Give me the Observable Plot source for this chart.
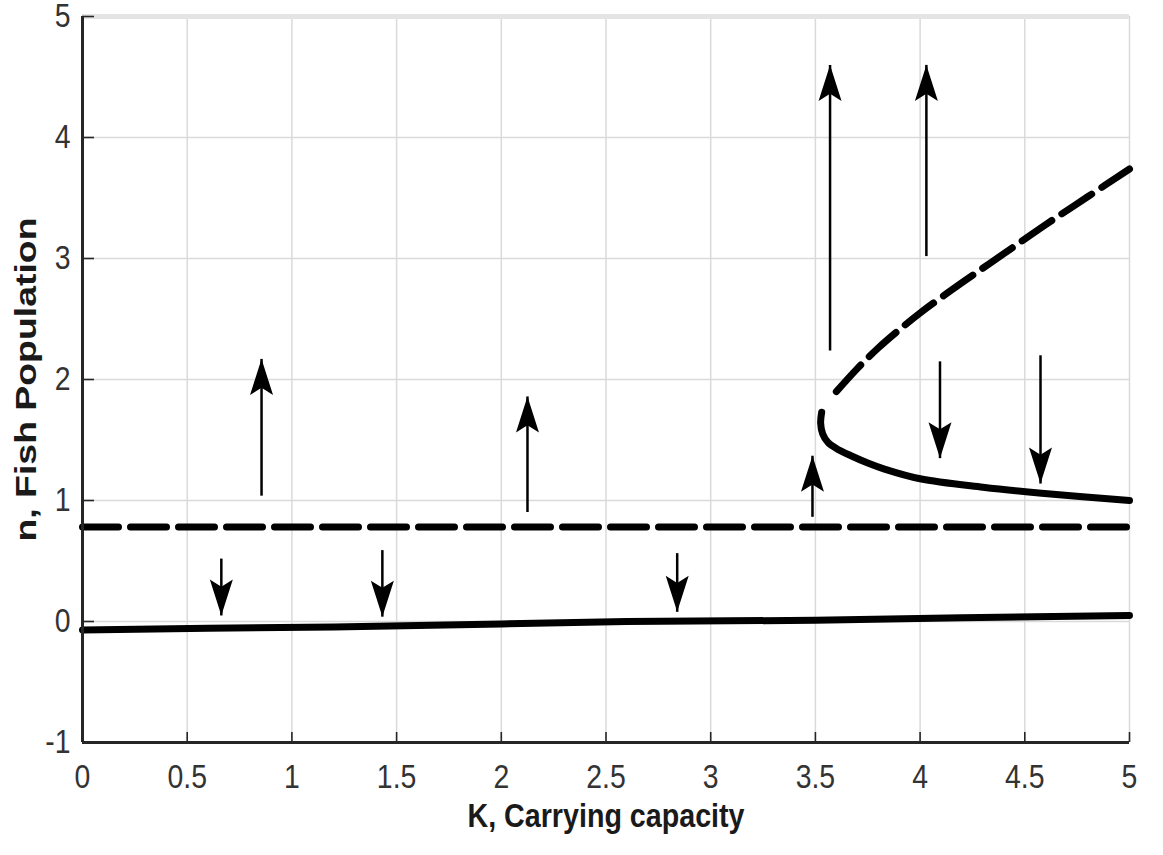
<!DOCTYPE html>
<html>
<head>
<meta charset="utf-8">
<script src="https://cdn.jsdelivr.net/npm/d3@7"></script>
<script src="https://cdn.jsdelivr.net/npm/@observablehq/plot@0.6"></script>
<style>
  html, body { margin: 0; padding: 0; background: #fff; }
  #chart svg { display: block; }
</style>
</head>
<body>
<div id="chart"></div>
<script>
// Axis ticks
const xTicks = [0, 0.5, 1, 1.5, 2, 2.5, 3, 3.5, 4, 4.5, 5];
const xTickLabels = ["0", "0.5", "1", "1.5", "2", "2.5", "3", "3.5", "4", "4.5", "5"];
const yTicks = [-1, 0, 1, 2, 3, 4, 5];
const yTickLabels = ["-1", "0", "1", "2", "3", "4", "5"];

// Lower stable equilibrium (population near zero)
const lowK = [0, 0.6, 1.2, 2, 2.6, 3.5, 4.2, 5];
const lowN = [-0.07, -0.055, -0.045, -0.02, 0.0, 0.01, 0.03, 0.05];

// Threshold equilibrium (unstable)
const thresholdK = [0, 5];
const thresholdN = [0.78, 0.78];

// Stable branch born at the fold
const upperStableK = [3.53, 3.525, 3.535, 3.56, 3.60, 3.67, 3.75, 3.83, 4.0, 4.3, 4.58, 5.0];
const upperStableN = [1.73, 1.64, 1.55, 1.48, 1.43, 1.37, 1.31, 1.26, 1.18, 1.11, 1.06, 1.0];

// Unstable branch born at the fold
const upperUnstableK = [3.6, 3.7, 3.8, 3.9, 4.0, 4.2, 4.4, 4.6, 4.8, 5.0];
const upperUnstableN = [1.90, 2.09, 2.26, 2.41, 2.55, 2.80, 3.04, 3.28, 3.51, 3.74];

// Direction-of-change arrows: growth
const riseK = [0.855, 2.125, 3.486, 3.57, 4.03];
const riseFrom = [1.04, 0.905, 0.865, 2.24, 3.02];
const riseTo = [2.17, 1.86, 1.37, 4.6, 4.6];

// Direction-of-change arrows: decline
const fallK = [0.663, 1.432, 2.84, 4.095, 4.575];
const fallFrom = [0.52, 0.59, 0.565, 2.15, 2.2];
const fallTo = [0.05, 0.04, 0.08, 1.35, 1.14];

const points = (ks, ns) => ks.map((k, i) => ({k, n: ns[i]}));
const arrows = (ks, from, to) => ks.map((k, i) => ({k, from: from[i], to: to[i]}));

const low = points(lowK, lowN);
const threshold = points(thresholdK, thresholdN);
const upperStable = points(upperStableK, upperStableN);
const upperUnstable = points(upperUnstableK, upperUnstableN);
const rise = arrows(riseK, riseFrom, riseTo);
const fall = arrows(fallK, fallFrom, fallTo);

// Layout
const W = 1163, H = 855;
const mL = 82, mR = 34, mT = 16, mB = 113;
const frameW = W - mL - mR, frameH = H - mT - mB;

// Filled arrowheads with the tip at the symbol origin
const headL = 36, headW = 23;
const headUp = {
  draw(ctx) {
    ctx.moveTo(0, 0);
    ctx.lineTo(headW / 2, headL);
    ctx.lineTo(0, headL * 0.8);
    ctx.lineTo(-headW / 2, headL);
    ctx.closePath();
  }
};
const headDown = {
  draw(ctx) {
    ctx.moveTo(0, 0);
    ctx.lineTo(headW / 2, -headL);
    ctx.lineTo(0, -headL * 0.8);
    ctx.lineTo(-headW / 2, -headL);
    ctx.closePath();
  }
};

const ink = "#000";
const dash = "36,12";

const chart = Plot.plot({
  width: W,
  height: H,
  marginLeft: mL,
  marginRight: mR,
  marginTop: mT,
  marginBottom: mB,
  style: {
    fontFamily: "'Liberation Sans', Arial, Helvetica, sans-serif",
    fontSize: "33px",
    color: "#333",
    background: "#fff"
  },
  x: {
    domain: [0, 5],
    ticks: xTicks,
    tickFormat: d => xTickLabels[xTicks.indexOf(d)],
    tickSize: 0,
    tickPadding: 22,
    label: null
  },
  y: {
    domain: [-1, 5],
    ticks: yTicks,
    tickFormat: d => yTickLabels[yTicks.indexOf(d)],
    tickSize: 0,
    tickPadding: 12,
    label: null
  },
  marks: [
    // grid
    Plot.ruleX(xTicks, {stroke: "#dadada", strokeWidth: 1.5}),
    Plot.ruleY(yTicks, {stroke: "#dadada", strokeWidth: 1.5}),
    Plot.ruleY([5], {stroke: "#e4e4e4", strokeWidth: 5}),

    // equilibrium curves
    Plot.line(low, {x: "k", y: "n", stroke: ink, strokeWidth: 7}),
    Plot.line(threshold, {x: "k", y: "n", stroke: ink, strokeWidth: 7, strokeDasharray: dash}),
    Plot.line(upperStable, {x: "k", y: "n", stroke: ink, strokeWidth: 7, curve: "catmull-rom"}),
    Plot.line(upperUnstable, {x: "k", y: "n", stroke: ink, strokeWidth: 7, strokeDasharray: dash, curve: "catmull-rom"}),

    // arrows
    Plot.link(rise, {x1: "k", x2: "k", y1: "from", y2: "to", stroke: ink, strokeWidth: 2.5}),
    Plot.link(fall, {x1: "k", x2: "k", y1: "from", y2: "to", stroke: ink, strokeWidth: 2.5}),
    Plot.dot(rise, {x: "k", y: "to", symbol: headUp, fill: ink, stroke: "none"}),
    Plot.dot(fall, {x: "k", y: "to", symbol: headDown, fill: ink, stroke: "none"}),

    // axis lines and inward tick marks
    Plot.ruleX(xTicks, {stroke: "#262626", strokeWidth: 1.6, insetTop: frameH - 10}),
    Plot.ruleY(yTicks, {stroke: "#262626", strokeWidth: 1.6, insetRight: frameW - 12}),
    Plot.ruleX([0], {stroke: "#262626", strokeWidth: 3}),
    Plot.ruleY([-1], {stroke: "#262626", strokeWidth: 3}),

    // axis titles
    Plot.text(["K, Carrying capacity"], {
      frameAnchor: "bottom", textAnchor: "middle", dy: 84,
      fontSize: 33, fontWeight: "bold", fill: "#1a1a1a"
    }),
    Plot.text(["n, Fish Population"], {
      frameAnchor: "left", textAnchor: "middle", dx: -56, rotate: -90,
      fontSize: 29, fontWeight: "bold", fill: "#1a1a1a"
    })
  ]
});

document.getElementById("chart").append(chart);

// Narrow the lettering to the figure's condensed type
chart.querySelectorAll("text").forEach(t => {
  const s = t.textContent;
  if (s === "K, Carrying capacity") {
    t.setAttribute("textLength", 277);
    t.setAttribute("lengthAdjust", "spacingAndGlyphs");
  } else if (s === "n, Fish Population") {
    t.setAttribute("textLength", 324);
    t.setAttribute("lengthAdjust", "spacingAndGlyphs");
  } else if (xTickLabels.includes(s) || yTickLabels.includes(s)) {
    const w = t.getComputedTextLength();
    t.setAttribute("textLength", (w * 0.86).toFixed(1));
    t.setAttribute("lengthAdjust", "spacingAndGlyphs");
  }
});
</script>
</body>
</html>
